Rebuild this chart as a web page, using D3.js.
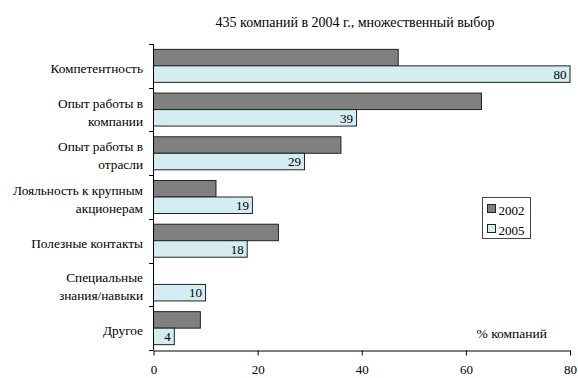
<!DOCTYPE html>
<html>
<head>
<meta charset="utf-8">
<script src="https://cdn.jsdelivr.net/npm/d3@7"></script>
<style>
  body { margin: 0; background: #fff; }
</style>
</head>
<body>
<div id="chart"></div>
<script>
// data
const categories = [
  ["Компетентность"],
  ["Опыт работы в", "компании"],
  ["Опыт работы в", "отрасли"],
  ["Лояльность к крупным", "акционерам"],
  ["Полезные контакты"],
  ["Специальные", "знания/навыки"],
  ["Другое"]
]
const years = ["2002", "2005"]
const values2002 = [47, 63, 36, 12, 24, 0, 9]
const values2005 = [80, 39, 29, 19, 18, 10, 4]
const xTicks = [0, 20, 40, 60, 80]
const title = "435 компаний в 2004 г., множественный выбор"
const unitLabel = "% компаний"

const W = 578, H = 378
const FONT = "'Liberation Serif', 'Times New Roman', serif"
const margin = {top: 44, right: 8, bottom: 28, left: 153},
      width = W - margin.left - margin.right,
      height = H - margin.top - margin.bottom;

const colors = {"2002": "#808080", "2005": "#d3edf3"}

const svg = d3.select("#chart")
  .append("svg")
    .attr("width", W)
    .attr("height", H)
    .attr("font-family", FONT)

svg.append("text")
  .attr("x", 355)
  .attr("y", 27)
  .attr("text-anchor", "middle")
  .attr("font-size", 14)
  .text(title)

const g = svg.append("g")
  .attr("transform", `translate(${margin.left},${margin.top})`)

const x = d3.scaleLinear().domain([0, 80]).range([0, width - 0.5])
const y = d3.scaleBand().domain(d3.range(categories.length)).range([0, height]).paddingInner(0.245).paddingOuter(0.1225)
const yInner = d3.scaleBand().domain(years).range([0, y.bandwidth()])

// bars
const rows = categories.map((c, i) => ({i, vals: [values2002[i], values2005[i]]}))
const grp = g.selectAll(".row")
  .data(rows)
  .join("g")
    .attr("transform", d => `translate(0,${y(d.i)})`)

grp.selectAll("rect")
  .data(d => d.vals.map((v, k) => ({year: years[k], value: v})).filter(e => e.value > 0))
  .join("rect")
    .attr("x", 0.5)
    .attr("y", d => yInner(d.year))
    .attr("width", d => x(d.value))
    .attr("height", yInner.bandwidth())
    .attr("fill", d => colors[d.year])
    .attr("stroke", "#222")
    .attr("stroke-width", 1)

// value labels for 2005
grp.append("text")
  .attr("x", d => x(d.vals[1]) - 3)
  .attr("y", yInner("2005") + yInner.bandwidth() - 3.5)
  .attr("text-anchor", "end")
  .attr("font-size", 13)
  .text(d => d.vals[1])

// category labels
const step = height / categories.length
g.selectAll(".cat")
  .data(categories)
  .join("text")
    .attr("text-anchor", "end")
    .attr("x", -10)
    .attr("y", (d, i) => i * step + step / 2 + 7 - (d.length - 1) * 9)
    .attr("font-size", 13.3)
    .each(function(d) {
      d3.select(this).selectAll("tspan")
        .data(d)
        .join("tspan")
          .attr("x", -10)
          .attr("dy", (t, j) => j === 0 ? 0 : 18)
          .text(t => t)
    })

// y axis line + ticks
g.append("line")
  .attr("x1", 0.5).attr("x2", 0.5)
  .attr("y1", 0).attr("y2", height)
  .attr("stroke", "#000")
g.selectAll(".ytick")
  .data(d3.range(categories.length + 1))
  .join("line")
    .attr("x1", -4).attr("x2", 0.5)
    .attr("y1", i => Math.round(i * step) + 0.5)
    .attr("y2", i => Math.round(i * step) + 0.5)
    .attr("stroke", "#000")

// x axis
const xAxis = g.append("g")
  .attr("transform", `translate(0.5,${height + 0.5})`)
  .call(d3.axisBottom(x).tickValues(xTicks).tickSize(5).tickPadding(9).tickSizeOuter(0))
xAxis.attr("font-family", FONT).attr("font-size", 13)
xAxis.select(".domain").attr("stroke", "#000")

svg.append("text")
  .attr("x", 547)
  .attr("y", 338)
  .attr("text-anchor", "end")
  .attr("font-size", 13.5)
  .text(unitLabel)

// legend
const lg = svg.append("g").attr("transform", "translate(482.5,197.5)")
lg.append("rect")
  .attr("width", 48).attr("height", 41)
  .attr("fill", "#fff")
  .attr("stroke", "#444")
lg.selectAll(".sw")
  .data(years)
  .join("rect")
    .attr("x", 5).attr("y", (d, i) => 7 + i * 20)
    .attr("width", 8).attr("height", 8)
    .attr("fill", d => colors[d])
    .attr("stroke", "#222")
lg.selectAll(".lt")
  .data(years)
  .join("text")
    .attr("x", 16).attr("y", (d, i) => 17 + i * 20)
    .attr("font-size", 13)
    .text(d => d)
</script>
</body>
</html>
